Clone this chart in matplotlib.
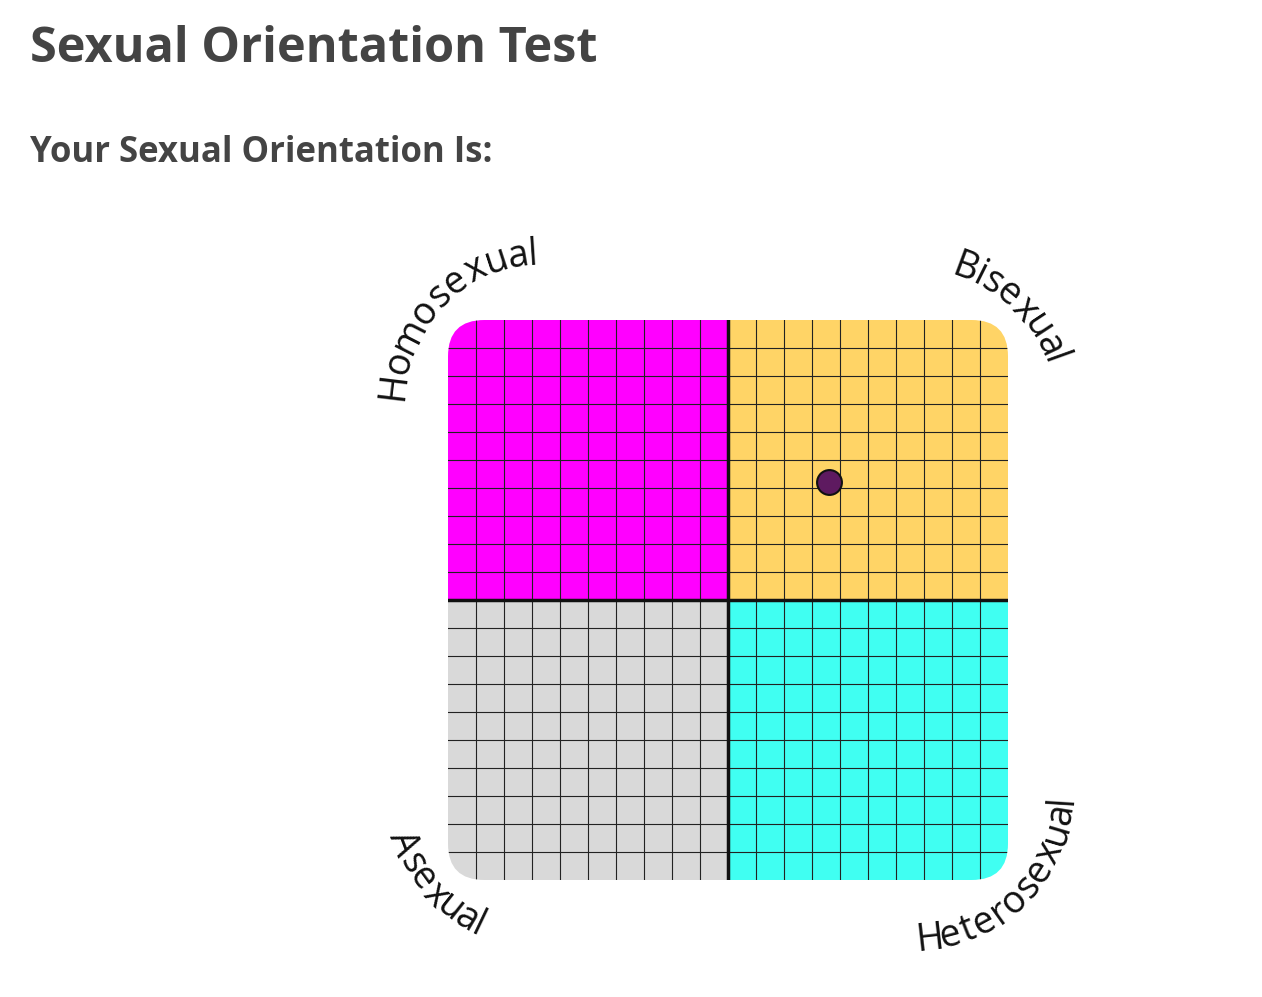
import numpy as np
import matplotlib.pyplot as plt
from matplotlib.patches import Rectangle, FancyBboxPatch
from matplotlib.textpath import TextPath
from matplotlib.font_manager import FontProperties

title = 'Sexual Orientation Test'
subtitle = 'Your Sexual Orientation Is:'
quad_names = ['Homosexual', 'Bisexual', 'Asexual', 'Heterosexual']
quad_colors = ['#ff00ff', '#ffd466', '#d9d9d9', '#40fff2']
quad_origin = [(-10, 0), (0, 0), (-10, -10), (0, -10)]
# label arcs: centre (grid units), start angle, end angle (deg)
arc_centre = [(-6.6, 7.0), (6.6, 6.8), (-6.6, -6.8), (6.6, -6.8)]
arc_span = [(178, 92), (74, 18), (196, 246), (-88, -2)]
result_x = [3.6]
result_y = [4.2]

fig = plt.figure(figsize=(12.62, 9.97), dpi=100)
fig.text(30 / 1262, 1 - 50 / 997, title, fontsize=35, fontweight='bold',
         color='#444444', family='Open Sans', va='center')
fig.text(30 / 1262, 1 - 153 / 997, subtitle, fontsize=25, fontweight='bold',
         color='#444444', family='Open Sans', va='center')

ax = fig.add_axes([448 / 1262, 117 / 997, 560 / 1262, 560 / 997])
ax.set_xlim(-10, 10)
ax.set_ylim(-10, 10)
ax.axis('off')

clip = FancyBboxPatch((-10, -10), 20, 20, boxstyle='round,pad=0,rounding_size=1.3',
                      transform=ax.transData, facecolor='none', edgecolor='none')
ax.add_patch(clip)
for (x0, y0), c in zip(quad_origin, quad_colors):
    r = Rectangle((x0, y0), 10, 10, facecolor=c, edgecolor='none')
    ax.add_patch(r)
    r.set_clip_path(clip)
for v in range(-9, 10):
    if v == 0:
        continue
    for ln in ax.plot([v, v], [-10, 10], color='#222222', lw=0.8) + \
              ax.plot([-10, 10], [v, v], color='#222222', lw=0.8):
        ln.set_clip_path(clip)
ax.plot([0, 0], [-10, 10], color='#111111', lw=2.5)
ax.plot([-10, 10], [0, 0], color='#111111', lw=2.5)
ax.scatter(result_x, result_y, s=320, color='#5e1a60', edgecolor='#111111',
           linewidth=1.5, zorder=5)

fp = FontProperties(family='Open Sans', size=27)
R = 150 / 28
for name, (cx, cy), (a0, a1) in zip(quad_names, arc_centre, arc_span):
    widths = [TextPath((0, 0), ch, prop=fp).get_extents().width + 5 for ch in name]
    cum = np.cumsum(widths) - np.array(widths) / 2
    frac = cum / np.sum(widths)
    top = a0 > a1
    for ch, f in zip(name, frac):
        a = a0 + (a1 - a0) * f
        rot = a - 90 if top else a + 90
        ax.text(cx + R * np.cos(np.radians(a)), cy + R * np.sin(np.radians(a)), ch,
                fontproperties=fp, color='#111111', rotation=rot,
                rotation_mode='anchor', ha='center', va='center', clip_on=False)

fig.savefig('out.png', dpi=100, facecolor='white')
